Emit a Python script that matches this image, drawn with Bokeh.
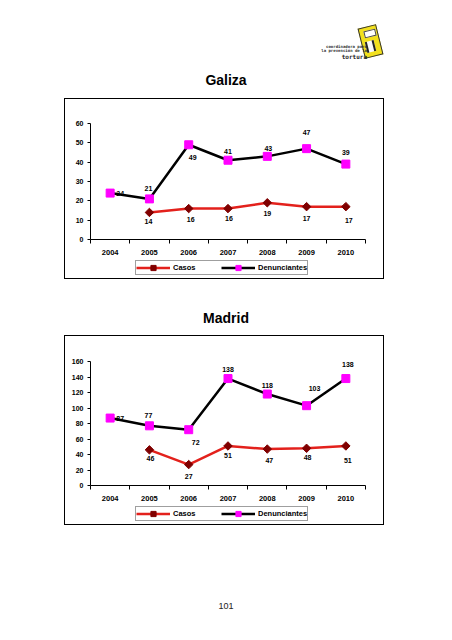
from bokeh.plotting import figure
from bokeh.models import (ColumnDataSource, Legend, LegendItem, FixedTicker, Div, Range1d)
from bokeh.layouts import column
from bokeh.embed import file_html
from bokeh.resources import INLINE
from bokeh.core.properties import value

# ---------------- data ----------------
years = ["2004", "2005", "2006", "2007", "2008", "2009", "2010"]
galiza_casos = [None, 14, 16, 16, 19, 17, 17]
galiza_denunciantes = [24, 21, 49, 41, 43, 47, 39]
madrid_casos = [None, 46, 27, 51, 47, 48, 51]
madrid_denunciantes = [87, 77, 72, 138, 118, 103, 138]
galiza_yticks = [0, 10, 20, 30, 40, 50, 60]
madrid_yticks = [0, 20, 40, 60, 80, 100, 120, 140, 160]
series_names = ["Casos", "Denunciantes"]
chart_titles = ["Galiza", "Madrid"]
page_number = "101"

# label offsets in screen pixels (style, not data)
galiza_den_off = [(10, 0), (-1, -10), (4, 13), (0, -9), (1, -8), (0, -16), (0, -12)]
galiza_cas_off = [(0, 0), (-1, 9), (2, 11), (1, 10), (0, 11), (0, 12), (3, 14)]
madrid_den_off = [(10, 0), (-1, -10), (7, 13), (0, -9), (0, -9), (8, -17), (2, -14)]
madrid_cas_off = [(0, 0), (1, 9), (0, 12), (0, 10), (2, 11), (1, 9), (2, 15)]

FONT = "Liberation Sans"
RED = "#E3211C"
DARKRED = "#800000"
MAGENTA = "#FF00FF"
PAGE_W = 452
INNER_W = 318


def nan(v):
    return float("nan") if v is None else v


def style_den_line(p, **kw):
    return p.line(line_color="black", line_width=2.5, **kw)


def style_den_marker(p, **kw):
    return p.scatter(marker="square", size=8, fill_color=MAGENTA, line_color=MAGENTA, **kw)


def style_cas_line(p, **kw):
    return p.line(line_color=RED, line_width=2.5, **kw)


def style_cas_marker(p, **kw):
    return p.scatter(marker="square", angle=0.7854, size=6,
                     fill_color=DARKRED, line_color=DARKRED, **kw)


def make_chart(casos, denun, yticks, height, top_border, frame_h, cas_off, den_off):
    n = len(years)
    xs = list(range(n))
    p = figure(width=INNER_W, height=height,
               x_range=Range1d(-0.5, n - 0.5), y_range=Range1d(yticks[0], yticks[-1]),
               output_backend="svg", toolbar_location=None,
               min_border_left=25, min_border_right=18,
               min_border_top=top_border, min_border_bottom=height - top_border - frame_h)
    p.outline_line_color = None
    p.grid.visible = False
    p.background_fill_color = "white"
    p.border_fill_color = "white"

    xa = p.xaxis[0]
    xa.ticker = FixedTicker(ticks=xs, minor_ticks=[i - 0.5 for i in range(n + 1)])
    xa.major_label_overrides = {i: y for i, y in enumerate(years)}
    xa.major_tick_out = 0
    xa.major_tick_in = 0
    xa.minor_tick_out = 4
    xa.minor_tick_in = 0
    xa.minor_tick_line_color = "black"
    xa.major_label_standoff = 6

    ya = p.yaxis[0]
    ya.ticker = FixedTicker(ticks=yticks)
    ya.major_tick_out = 3
    ya.major_tick_in = 0
    ya.minor_tick_out = 0
    ya.major_label_standoff = 4

    for ax in (xa, ya):
        ax.axis_line_color = "black"
        ax.axis_line_width = 1
        ax.major_tick_line_color = "black"
        ax.major_label_text_font = FONT
        ax.major_label_text_font_style = "bold"
        ax.major_label_text_color = "black"
    xa.major_label_text_font_size = "7.5px"
    ya.major_label_text_font_size = "7px"

    src = ColumnDataSource(dict(x=xs, casos=[nan(v) for v in casos], den=denun))
    style_den_line(p, x="x", y="den", source=src)
    style_den_marker(p, x="x", y="den", source=src)
    style_cas_line(p, x="x", y="casos", source=src)
    style_cas_marker(p, x="x", y="casos", source=src)

    # data labels
    lx, ly, lt, dx, dy = [], [], [], [], []
    for i, v in enumerate(denun):
        lx.append(i); ly.append(v); lt.append(str(v))
        dx.append(den_off[i][0]); dy.append(den_off[i][1])
    for i, v in enumerate(casos):
        if v is None:
            continue
        lx.append(i); ly.append(v); lt.append(str(v))
        dx.append(cas_off[i][0]); dy.append(cas_off[i][1])
    lsrc = ColumnDataSource(dict(x=lx, y=ly, t=lt, dx=dx, dy=dy))
    p.text("x", "y", text="t", source=lsrc, x_offset="dx", y_offset="dy",
           text_align="center", text_baseline="middle",
           text_font=value(FONT), text_font_style="bold", text_font_size="7px",
           text_color="black")
    return p


def make_legend_strip(height, lx, ly):
    q = figure(width=INNER_W, height=height, x_range=Range1d(0, 1), y_range=Range1d(0, 1),
               output_backend="svg", toolbar_location=None,
               x_axis_location=None, y_axis_location=None,
               min_border=0)
    q.outline_line_color = None
    q.grid.visible = False
    q.border_fill_color = "white"
    # legend-only renderers (no visible data points)
    empty = ColumnDataSource(dict(x=[0.0], y=[float("nan")]))
    lc = style_cas_line(q, x="x", y="y", source=empty)
    mc = style_cas_marker(q, x="x", y="y", source=empty)
    ld = style_den_line(q, x="x", y="y", source=empty)
    md = style_den_marker(q, x="x", y="y", source=empty)
    legend = Legend(items=[LegendItem(label=series_names[0], renderers=[lc, mc]),
                           LegendItem(label=series_names[1], renderers=[ld, md])],
                    orientation="horizontal", location=(lx, ly),
                    border_line_color="#404040", border_line_width=1,
                    padding=0, margin=0, spacing=0,
                    glyph_width=34, glyph_height=13, label_height=13, label_width=48,
                    label_standoff=3,
                    label_text_font=FONT, label_text_font_style="bold",
                    label_text_font_size="7.5px", label_text_color="black",
                    background_fill_color="white", background_fill_alpha=1.0)
    q.add_layout(legend)
    return q


def boxed(p, q):
    return column(p, q, spacing=0, margin=(0, 0, 0, 64),
                  styles={"border": "1px solid #000", "box-sizing": "content-box"})


logo_html = """
<div style="position:relative;width:452px;height:70px;">
  <div style="position:absolute;left:361px;top:26px;width:19px;height:31px;background:#f2e01c;
       border:1px solid #333;box-sizing:border-box;transform:rotate(-14deg);"></div>
  <div style="position:absolute;left:364px;top:30px;width:12px;height:7px;background:#ffffff;
       border:1px solid #444;box-sizing:border-box;transform:rotate(-14deg);"></div>
  <div style="position:absolute;left:366px;top:41px;width:9px;height:11px;background:#fafafa;
       border-left:2px solid #222;border-right:2px solid #222;box-sizing:border-box;
       transform:rotate(-14deg);"></div>
  <div style="position:absolute;right:85px;top:45px;font:bold 4px 'DejaVu Sans Mono';color:#333;
       white-space:nowrap;text-align:right;line-height:4px;">coordinadora para</div>
  <div style="position:absolute;right:85px;top:49px;font:bold 4px 'DejaVu Sans Mono';color:#333;
       white-space:nowrap;text-align:right;line-height:4px;">la prevenci&oacute;n de la</div>
  <div style="position:absolute;right:85px;top:54px;font:bold 6px 'DejaVu Sans Mono';color:#222;
       white-space:nowrap;text-align:right;line-height:6px;">tortura</div>
</div>
"""
logo = Div(text=logo_html, width=PAGE_W, height=70, margin=(0, 0, 0, 0))

title_style = "font-family:'Liberation Sans';font-weight:bold;font-size:14px;line-height:16px;" \
              f"text-align:center;width:{PAGE_W}px;color:#000;"
t1 = Div(text=f"<div style=\"{title_style}padding-top:2px;\">{chart_titles[0]}</div>",
         width=PAGE_W, height=28, margin=(0, 0, 0, 0))

p1 = make_chart(galiza_casos, galiza_denunciantes, galiza_yticks,
                height=160, top_border=24, frame_h=116,
                cas_off=galiza_cas_off, den_off=galiza_den_off)
q1 = make_legend_strip(19, 45, 3)

t2 = Div(text=f"<div style=\"{title_style}padding-top:31px;\">{chart_titles[1]}</div>",
         width=PAGE_W, height=56, margin=(0, 0, 0, 0))

p2 = make_chart(madrid_casos, madrid_denunciantes, madrid_yticks,
                height=169, top_border=25, frame_h=124,
                cas_off=madrid_cas_off, den_off=madrid_den_off)
q2 = make_legend_strip(19, 45, 3)

pn = Div(text=f"<div style=\"font-family:'Liberation Sans';font-size:9px;line-height:12px;"
              f"text-align:center;width:{PAGE_W}px;color:#222;padding-top:75px;\">{page_number}</div>",
         width=PAGE_W, height=110, margin=(0, 0, 0, 0))

page = column(logo, t1, boxed(p1, q1), t2, boxed(p2, q2), pn, spacing=0)

open("out.html", "w").write(file_html(page, INLINE))
